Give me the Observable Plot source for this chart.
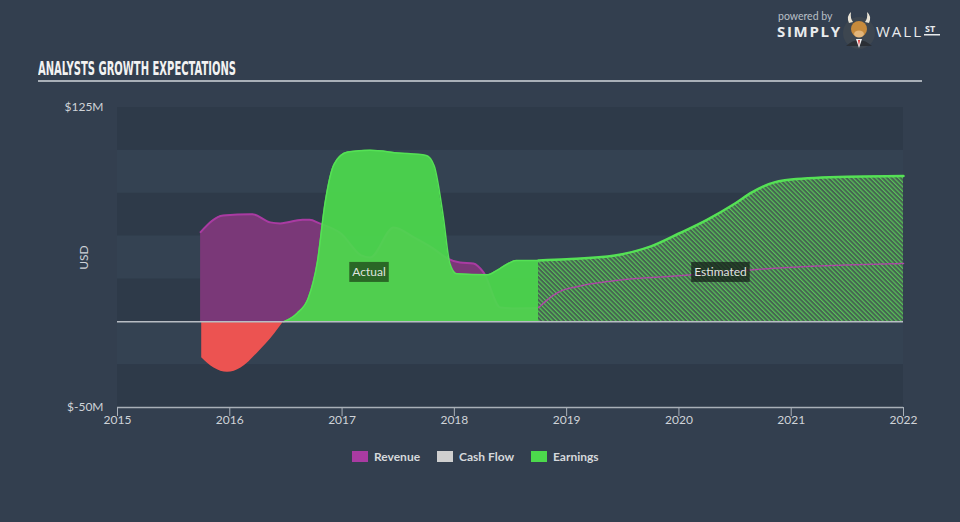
<!DOCTYPE html>
<html>
<head>
<meta charset="utf-8">
<script src="https://cdn.jsdelivr.net/npm/d3@7"></script>
<script src="https://cdn.jsdelivr.net/npm/@observablehq/plot@0.6"></script>
<style>
  html, body { margin: 0; padding: 0; }
  body { width: 960px; height: 522px; background: #333f4f; position: relative; overflow: hidden; font-family: Lato, "Open Sans", sans-serif; }
  #title { position: absolute; left: 38px; top: 56px; color: #f2f2f2; font-family: "Liberation Sans Narrow", "DejaVu Sans Condensed", sans-serif; font-weight: bold; font-size: 20px; letter-spacing: 0px; white-space: nowrap; transform-origin: 0 0; }
  #rule { position: absolute; left: 38px; top: 80px; width: 884px; height: 2px; background: #a9b0b8; }
  #chart { position: absolute; left: 0; top: 0; }
  #legend { position: absolute; top: 449px; left: 0; width: 960px; height: 16px; }
  .li { position: absolute; top: 0; display: flex; align-items: center; color: #d6d9dc; font-size: 12px; font-weight: bold; }
  .sw { width: 16px; height: 11px; margin-right: 6px; }
  #logo { position: absolute; left: 776px; top: 8px; width: 180px; height: 44px; }
</style>
</head>
<body>
<div id="title">ANALYSTS GROWTH EXPECTATIONS</div>
<div id="rule"></div>
<div id="chart"></div>
<div id="legend"></div>
<svg id="logo" width="180" height="44" viewBox="0 0 180 44">
  <text x="2" y="12" fill="#b9bfc6" font-family="Lato, 'Open Sans', sans-serif" font-size="10.5">powered by</text>
  <text x="1" y="29" fill="#e9ebed" font-family="'Open Sans', Roboto, sans-serif" font-weight="bold" font-size="15" textLength="63">SIMPLY</text>
  <circle cx="83" cy="25" r="16" fill="#3d4650"/>
  <path d="M70 38 Q83 26 96 38 Z" fill="#2b2f35"/>
  <path d="M80 31 L83 40 L86 31 Z" fill="#f3f3f3"/>
  <path d="M82 32 L83 38 L84 32 Z" fill="#d33"/>
  <ellipse cx="83" cy="21" rx="8" ry="8" fill="#c68a3c"/>
  <ellipse cx="83" cy="26" rx="5" ry="3.5" fill="#e2b57a"/>
  <path d="M73 15 Q70 8 75 4 Q74 10 77 14 Z" fill="#e9e3d5"/>
  <path d="M93 15 Q96 8 91 4 Q92 10 89 14 Z" fill="#e9e3d5"/>
  <text x="100" y="29" fill="#e9ebed" font-family="'Open Sans', Roboto, sans-serif" font-size="15" textLength="45">WALL</text>
  <text x="149" y="24" fill="#e9ebed" font-family="'Open Sans', Roboto, sans-serif" font-weight="bold" font-size="9">ST</text>
  <rect x="148" y="26" width="16" height="1.5" fill="#e9ebed"/>
</svg>
<script>
// ---- data ----
const xTicks = [2015, 2016, 2017, 2018, 2019, 2020, 2021, 2022];
const yTicks = [125, -50];
const bandStarts = [-50, -25, 0, 25, 50, 75, 100];

const revenueActual = [
  {year: 2015.74, value: 52.3}, {year: 2015.94, value: 62}, {year: 2016.2, value: 62.8},
  {year: 2016.36, value: 58}, {year: 2016.45, value: 57.4}, {year: 2016.65, value: 59.5},
  {year: 2016.71, value: 59.5}, {year: 2016.8, value: 57.4}, {year: 2016.99, value: 51.5},
  {year: 2017.17, value: 38.7}, {year: 2017.25, value: 37.5}, {year: 2017.46, value: 55},
  {year: 2017.64, value: 49.2}, {year: 2017.81, value: 42.8}, {year: 2017.94, value: 36.9},
  {year: 2018.05, value: 34.6}, {year: 2018.17, value: 34}, {year: 2018.26, value: 28.8},
  {year: 2018.41, value: 8.3}, {year: 2018.52, value: 7.8}, {year: 2018.75, value: 8}
];
const revenueEstimated = [
  {year: 2018.75, value: 8.3}, {year: 2018.92, value: 17}, {year: 2019.13, value: 21},
  {year: 2019.43, value: 24}, {year: 2020.03, value: 27}, {year: 2020.92, value: 31.5},
  {year: 2022, value: 34}
];
const earningsNegative = [
  {year: 2015.75, value: -21}, {year: 2015.86, value: -27}, {year: 2015.98, value: -29.5},
  {year: 2016.1, value: -27}, {year: 2016.25, value: -18}, {year: 2016.4, value: -7},
  {year: 2016.48, value: 0}
];
const earningsActual = [
  {year: 2016.48, value: 0}, {year: 2016.6, value: 5}, {year: 2016.7, value: 14},
  {year: 2016.78, value: 35}, {year: 2016.85, value: 70}, {year: 2016.93, value: 92},
  {year: 2017.05, value: 99}, {year: 2017.25, value: 100}, {year: 2017.5, value: 98.5},
  {year: 2017.75, value: 97}, {year: 2017.82, value: 91}, {year: 2017.9, value: 62},
  {year: 2017.96, value: 34}, {year: 2018.02, value: 28}, {year: 2018.3, value: 27.5},
  {year: 2018.38, value: 30}, {year: 2018.48, value: 34}, {year: 2018.55, value: 35.8},
  {year: 2018.75, value: 35.8}
];
const earningsEstimated = [
  {year: 2018.75, value: 35.8}, {year: 2019.0, value: 36.5}, {year: 2019.43, value: 38.7},
  {year: 2019.75, value: 44}, {year: 2020.0, value: 51.5}, {year: 2020.25, value: 59.5},
  {year: 2020.5, value: 69}, {year: 2020.65, value: 75.5}, {year: 2020.8, value: 80.3},
  {year: 2021.0, value: 83}, {year: 2021.5, value: 84.6}, {year: 2022, value: 85}
];
const annotations = [
  {label: "Actual", year: 2017.24, value: 28.7},
  {label: "Estimated", year: 2020.37, value: 28.7}
];
const legendItems = ["Revenue", "Cash Flow", "Earnings"];

// ---- styles ----
const C = {
  bandDark: "#2e3a49", bandLight: "#344252",
  revFill: "#7a3878", revLine: "#a93ba2",
  neg: "#ec5351", earn: "#4cd94c", earnLine: "#55e155",
  zero: "#b8bdc4", axis: "#a9b0b8", text: "#cfd3d8"
};
const legendColors = ["#a93ba2", "#cfcfcf", "#4cd94c"];
const legendLeft = [352, 437, 531];
const boxColors = ["#2a6726", "rgba(22,32,26,0.75)"];

const curve = "monotone-x";
const chart = Plot.plot({
  width: 960, height: 522,
  marginLeft: 117, marginRight: 57, marginTop: 107, marginBottom: 115,
  style: {background: "transparent", color: C.text, fontFamily: "Lato, 'Open Sans', sans-serif", fontSize: "12px"},
  x: {domain: [2015, 2022]},
  y: {domain: [-50, 125]},
  marks: [
    Plot.rectY(bandStarts.filter(d => ((d + 50) / 25) % 2 === 0), {x1: 2015, x2: 2022, y1: d => d, y2: d => d + 25, fill: C.bandDark}),
    Plot.rectY(bandStarts.filter(d => ((d + 50) / 25) % 2 === 1), {x1: 2015, x2: 2022, y1: d => d, y2: d => d + 25, fill: C.bandLight}),
    Plot.areaY(revenueActual, {x: "year", y: "value", fill: C.revFill, curve}),
    Plot.lineY(revenueActual, {x: "year", y: "value", stroke: C.revLine, strokeWidth: 2, curve}),
    Plot.areaY(earningsNegative, {x: "year", y: "value", fill: C.neg, curve}),
    Plot.areaY(earningsActual, {x: "year", y: "value", fill: C.earn, fillOpacity: 0.93, curve}),
    Plot.lineY(earningsActual, {x: "year", y: "value", stroke: C.earnLine, strokeWidth: 1.5, curve}),
    Plot.areaY(earningsEstimated, {x: "year", y: "value", fill: "url(#hatch)", curve}),
    Plot.lineY(earningsEstimated, {x: "year", y: "value", stroke: C.earnLine, strokeWidth: 2.5, curve}),
    Plot.lineY(revenueEstimated, {x: "year", y: "value", stroke: "#b245aa", strokeWidth: 1.5, strokeDasharray: "2,1.5", curve}),
    Plot.ruleY([0], {stroke: C.zero, strokeWidth: 1.5}),
    Plot.ruleY([-50], {stroke: C.axis, strokeWidth: 1.5}),
    Plot.text(annotations, {x: "year", y: "value", text: "label", fill: "#dfe3df", fontSize: 12}),
    Plot.axisX(xTicks, {tickFormat: d => String(d), tickSize: 9, tickPadding: -1, stroke: C.axis, label: null}),
    Plot.axisY(yTicks, {tickSize: 0, tickPadding: 14, tickFormat: d => d < 0 ? `$-${-d}M` : `$${d}M`, label: "USD", labelAnchor: "center", labelArrow: "none", labelOffset: 38})
  ]
});
document.getElementById("chart").appendChild(chart);

// hatch pattern for estimated region
const ns = "http://www.w3.org/2000/svg";
const defs = document.createElementNS(ns, "defs");
defs.innerHTML = `<pattern id="hatch" patternUnits="userSpaceOnUse" width="3.2" height="3.2" patternTransform="rotate(-45)">
  <rect width="3.2" height="3.2" fill="#466452"/>
  <rect width="1.2" height="3.2" fill="#57c257"/>
</pattern>`;
chart.insertBefore(defs, chart.firstChild);

// boxes behind annotation labels
chart.querySelectorAll('g[aria-label="text"] text').forEach((t, i) => {
  const b = t.getBBox();
  const r = document.createElementNS(ns, "rect");
  r.setAttribute("x", b.x - 3);
  r.setAttribute("y", b.y + b.height / 2 - 10);
  r.setAttribute("width", b.width + 6);
  r.setAttribute("height", 20);
  r.setAttribute("fill", boxColors[i]);
  const tr = t.getAttribute("transform");
  if (tr) r.setAttribute("transform", tr);
  if (t.getAttribute("x")) { r.setAttribute("x", +t.getAttribute("x") + b.x - +t.getAttribute("x") - 3); }
  t.parentNode.insertBefore(r, t);
});

// legend
const lg = document.getElementById("legend");
legendItems.forEach((name, i) => {
  const d = document.createElement("div");
  d.className = "li";
  d.style.left = legendLeft[i] + "px";
  d.innerHTML = `<span class="sw" style="background:${legendColors[i]}"></span><span>${name}</span>`;
  lg.appendChild(d);
});

// fit title width
const title = document.getElementById("title");
const w = title.getBoundingClientRect().width;
title.style.transform = `scaleX(${198 / w})`;
</script>
</body>
</html>
